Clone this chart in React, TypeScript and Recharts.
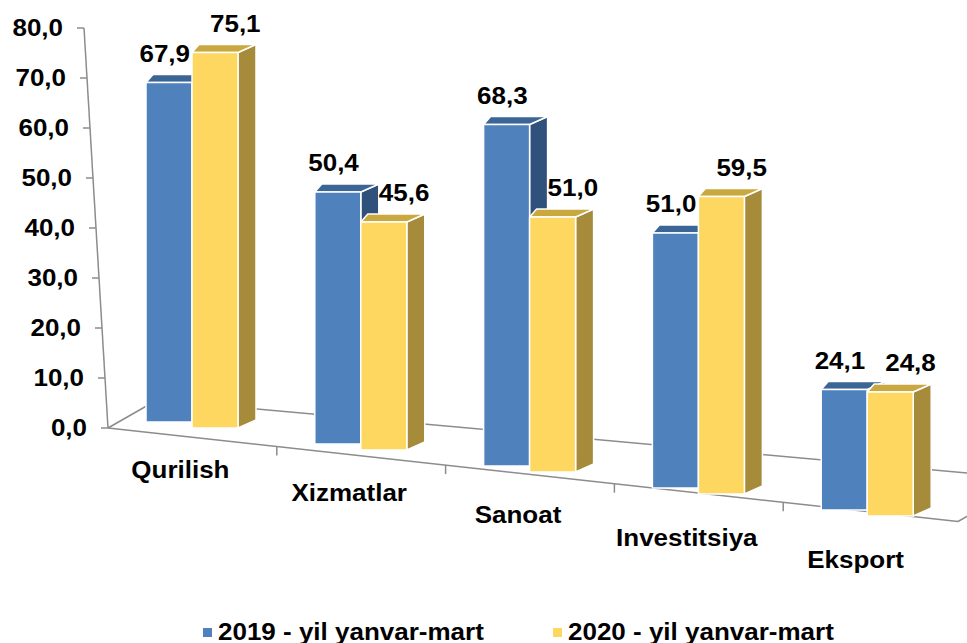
import React from "react";
import { BarChart, Bar, XAxis, YAxis, Legend } from "recharts";

// chart values
const categories = ["Qurilish", "Xizmatlar", "Sanoat", "Investitsiya", "Eksport"];
const values2019 = [67.9, 50.4, 68.3, 51.0, 24.1];
const values2020 = [75.1, 45.6, 51.0, 59.5, 24.8];
const yTicks = [0, 10, 20, 30, 40, 50, 60, 70, 80];
const seriesNames = ["2019 - yil yanvar-mart", "2020 - yil yanvar-mart"];

const chartData = categories.map((name, i) => ({
  name,
  y2019: values2019[i],
  y2020: values2020[i],
}));

// layout
const W = 967;
const H = 643;
const AXIS_X = 108;
const TOP = 28;
const ZERO_Y = 428;
const PAD_RIGHT = 15;
const BAND = (W - AXIS_X - PAD_RIGHT) / categories.length;
const DROP = 22; // perspective: each category sits lower
const SLANT = 0.06; // value axis leans left
const FONT = "'Liberation Sans', Arial, sans-serif";
const STRETCH = "scale(1.13,1)";

const BLUE = { front: "#4F81BD", top: "#3B6595", side: "#30517B" };
const GOLD = { front: "#FDD75F", top: "#C9A840", side: "#A68B3A" };

const fmt = (v: number) => v.toFixed(1).replace(".", ",");

function makeBox(c: typeof BLUE, lift: number, labelSide: "left" | "right") {
  return (props: any) => {
    const { x, y, width, height, payload, value } = props;
    const i = categories.indexOf(payload.name);
    const off = i * DROP - lift;
    const x0 = x;
    const x1 = x + width;
    const yt = y + off;
    const yb = y + height + off;
    const dx = 18;
    const dy = 8;
    const v = Array.isArray(value) ? value[1] - value[0] : value;
    return (
      <g stroke="#fff" strokeWidth={1.5} strokeLinejoin="round">
        <polygon
          points={`${x1},${yt} ${x1 + dx},${yt - dy} ${x1 + dx},${yb - dy} ${x1},${yb}`}
          fill={c.side}
        />
        <polygon
          points={`${x0},${yt} ${x0 + 7},${yt - dy} ${x1 + dx},${yt - dy} ${x1},${yt}`}
          fill={c.top}
        />
        <rect x={x0} y={yt} width={width} height={yb - yt} fill={c.front} />
        <text
          stroke="none"
          fill="#000"
          fontFamily={FONT}
          fontWeight="bold"
          fontSize={23}
          textAnchor={labelSide === "left" ? "end" : "start"}
          transform={`translate(${labelSide === "left" ? x1 - 2 : x0 + 18},${yt - 21}) ${STRETCH}`}
        >
          {fmt(v)}
        </text>
      </g>
    );
  };
}

const blueBox = makeBox(BLUE, 6, "left");
const goldBox = makeBox(GOLD, 0, "right");

const ValueTick = (props: any) => {
  const { y, payload } = props;
  const ax = AXIS_X - (ZERO_Y - y) * SLANT;
  return (
    <g>
      <line x1={ax - 7} x2={ax} y1={y} y2={y} stroke="#8C8C8C" strokeWidth={1.5} />
      <text
        transform={`translate(${ax - 21},${y + 8}) ${STRETCH}`}
        textAnchor="end"
        fontFamily={FONT}
        fontWeight="bold"
        fontSize={23}
        fill="#000"
      >
        {fmt(payload.value)}
      </text>
    </g>
  );
};

const CategoryTick = (props: any) => {
  const { x, payload } = props;
  const i = categories.indexOf(payload.value);
  return (
    <text
      transform={`translate(${x - 12},${ZERO_Y + 50 + i * 22.5}) ${STRETCH}`}
      textAnchor="middle"
      fontFamily={FONT}
      fontWeight="bold"
      fontSize={23}
      fill="#000"
    >
      {payload.value}
    </text>
  );
};

const LegendContent = () => {
  const colors = [BLUE.front, GOLD.front];
  const lefts = [203, 553];
  return (
    <div style={{ position: "relative", height: 28, width: W }}>
      {seriesNames.map((n, k) => (
        <div
          key={n}
          style={{
            position: "absolute",
            left: lefts[k],
            top: 0,
            height: 28,
            display: "flex",
            alignItems: "center",
            fontFamily: FONT,
            fontWeight: "bold",
            fontSize: 23,
            whiteSpace: "nowrap",
          }}
        >
          <span style={{ width: 9, height: 9, background: colors[k], marginRight: 6 }} />
          <span style={{ display: "inline-block", transform: "scaleX(1.13)", transformOrigin: "left center" }}>
            {n}
          </span>
        </div>
      ))}
    </div>
  );
};

function Floor() {
  const frontSlope = 0.11;
  const backStart = { x: 157, y: 400 };
  const backSlope = 0.09;
  const frontEnd = W - 9;
  const fy = (x: number) => ZERO_Y + (x - AXIS_X) * frontSlope;
  const ticks = categories.slice(1).map((_, k) => AXIS_X + (k + 1) * BAND);
  return (
    <svg width={W} height={H} style={{ position: "absolute", left: 0, top: 0 }}>
      <g stroke="#8C8C8C" strokeWidth={1.5} fill="none">
        <line x1={AXIS_X - (ZERO_Y - TOP) * SLANT} y1={TOP} x2={AXIS_X} y2={ZERO_Y} />
        <line x1={AXIS_X} y1={ZERO_Y} x2={backStart.x} y2={backStart.y} />
        <line
          x1={backStart.x}
          y1={backStart.y}
          x2={W}
          y2={backStart.y + (W - backStart.x) * backSlope}
        />
        <line x1={AXIS_X} y1={ZERO_Y} x2={frontEnd} y2={fy(frontEnd)} />
        <line x1={frontEnd} y1={fy(frontEnd)} x2={frontEnd + 49} y2={fy(frontEnd) - 28} />
        {ticks.map((t) => (
          <line key={t} x1={t} y1={fy(t)} x2={t} y2={fy(t) + 9} />
        ))}
      </g>
    </svg>
  );
}

export default function App() {
  return (
    <div style={{ position: "relative", width: W, height: H, overflow: "hidden" }}>
      <style>{"body{margin:0;overflow:hidden}"}</style>
      <Floor />
      <div style={{ position: "absolute", left: 0, top: 0 }}>
        <BarChart
          width={W}
          height={H}
          data={chartData}
          barGap={0}
          margin={{ top: TOP, right: 0, left: 0, bottom: 0 }}
        >
          <YAxis
            width={AXIS_X}
            domain={[0, 80]}
            ticks={yTicks}
            interval={0}
            axisLine={false}
            tickLine={false}
            tick={<ValueTick />}
          />
          <XAxis
            dataKey="name"
            height={187}
            axisLine={false}
            tickLine={false}
            interval={0}
            padding={{ left: 0, right: PAD_RIGHT }}
            tick={<CategoryTick />}
          />
          <Legend
            verticalAlign="bottom"
            content={<LegendContent />}
            wrapperStyle={{ left: 0, width: W, bottom: -3 }}
          />
          <Bar dataKey="y2019" name={seriesNames[0]} barSize={46} shape={blueBox} isAnimationActive={false} />
          <Bar dataKey="y2020" name={seriesNames[1]} barSize={46} shape={goldBox} isAnimationActive={false} />
        </BarChart>
      </div>
    </div>
  );
}
